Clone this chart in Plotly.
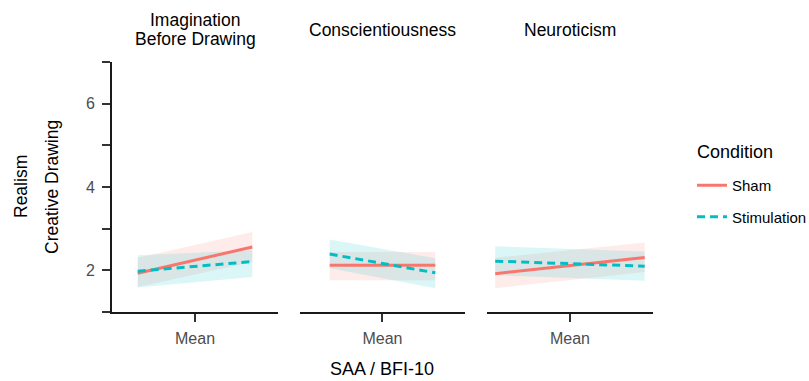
import plotly.graph_objects as go

# ---- data ----
facet_titles = [["Imagination", "Before Drawing"], ["Conscientiousness"], ["Neuroticism"]]
# moderator values (low / high end of each line, relative to mean)
x_vals = [[-0.69, 0.69], [-0.64, 0.64], [-0.90, 0.90]]

sham_fit = [[1.93, 2.56], [2.12, 2.12], [1.92, 2.31]]
sham_lo = [[1.60, 2.20], [1.76, 1.76], [1.57, 1.96]]
sham_hi = [[2.30, 2.92], [2.44, 2.44], [2.30, 2.67]]

stim_fit = [[1.98, 2.21], [2.39, 1.94], [2.22, 2.10]]
stim_lo = [[1.59, 1.84], [2.05, 1.57], [1.88, 1.75]]
stim_hi = [[2.36, 2.48], [2.74, 2.29], [2.58, 2.45]]

conditions = ["Sham", "Stimulation"]
legend_title = "Condition"
y_tick_vals = [1, 2, 3, 4, 5, 6, 7]
y_tick_text = ["", "2", "", "4", "", "6", ""]
x_tick_label = "Mean"
y_range = [1, 7]

colors = {"Sham": "#F8766D", "Stimulation": "#00BFC4"}
fills = {"Sham": "rgba(248,118,109,0.14)", "Stimulation": "rgba(0,191,196,0.14)"}
dashes = {"Sham": "solid", "Stimulation": "8px,5px"}

FONT = "Liberation Sans, Arial, sans-serif"

fig = go.Figure()

domains = [[0.0, 0.307], [0.3475, 0.6525], [0.693, 1.0]]

series = {
    "Sham": (sham_fit, sham_lo, sham_hi),
    "Stimulation": (stim_fit, stim_lo, stim_hi),
}

for i in range(3):
    xa = "x" if i == 0 else f"x{i+1}"
    ya = "y" if i == 0 else f"y{i+1}"
    for cond in conditions:
        fit, lo, hi = series[cond]
        xs = x_vals[i]
        fig.add_trace(go.Scatter(
            x=xs + xs[::-1], y=lo[i] + hi[i][::-1],
            fill="toself", fillcolor=fills[cond], line=dict(width=0),
            mode="lines", hoverinfo="skip", showlegend=False,
            xaxis=xa, yaxis=ya))
    for cond in conditions:
        fit, lo, hi = series[cond]
        fig.add_trace(go.Scatter(
            x=x_vals[i], y=fit[i], mode="lines",
            line=dict(color=colors[cond], width=3, dash=dashes[cond]),
            name=cond, legendgroup=cond, showlegend=(i == 0),
            xaxis=xa, yaxis=ya))

layout = dict(
    width=809, height=381,
    margin=dict(l=112, r=156, t=62, b=69),
    paper_bgcolor="white", plot_bgcolor="white",
    font=dict(family=FONT, color="black"),
    showlegend=True,
    legend=dict(
        font=dict(size=15, family=FONT, color="black"),
        xref="container", yref="container",
        x=692 / 809, xanchor="left", y=1 - 169 / 381, yanchor="top",
        tracegroupgap=9, itemwidth=30,
    ),
)

for i in range(3):
    sx = "" if i == 0 else str(i + 1)
    layout[f"xaxis{sx}"] = dict(
        domain=domains[i], range=[-1, 1], anchor="y" + sx,
        tickvals=[0], ticktext=[x_tick_label], ticks="outside", ticklen=8,
        tickwidth=1.5, tickcolor="#333333", ticklabelstandoff=3,
        showline=True, linecolor="#1a1a1a", linewidth=2,
        showgrid=False, zeroline=False, fixedrange=True,
        tickfont=dict(size=16, color="#4D4D4D", family=FONT),
    )
    ydict = dict(
        domain=[0, 1], range=y_range, anchor="x" + sx,
        showgrid=False, zeroline=False,
    )
    if i == 0:
        ydict.update(tickvals=y_tick_vals, ticktext=y_tick_text, ticks="outside", ticklen=8,
                     tickwidth=1.5, tickcolor="#333333", ticklabelstandoff=4,
                     showline=True, linecolor="#1a1a1a", linewidth=2,
                     tickfont=dict(size=16, color="#4D4D4D", family=FONT))
    else:
        ydict.update(showticklabels=False, showline=False, ticks="")
    layout[f"yaxis{sx}"] = ydict

fig.update_layout(**layout)


def py(pix):
    # pixel y -> paper y (plot area spans 62..312 px)
    return (312 - pix) / 250.0


def px(pix):
    # pixel x -> paper x (plot area spans 112..653 px)
    return (pix - 112) / 541.0


# facet titles
title_y = {1: [30], 2: [20, 39]}
for i in range(3):
    cx = (domains[i][0] + domains[i][1]) / 2
    lines = facet_titles[i]
    ys = title_y[len(lines)]
    for line, yp in zip(lines, ys):
        fig.add_annotation(text=line, x=cx, y=py(yp), xref="paper", yref="paper",
                           xanchor="center", yanchor="middle", showarrow=False,
                           font=dict(size=17.5, family=FONT, color="black"))

# legend title
fig.add_annotation(text=legend_title, x=px(695), y=py(152),
                   xref="paper", yref="paper", xanchor="left", yanchor="middle",
                   showarrow=False, font=dict(size=18, family=FONT, color="black"))

# axis titles
fig.add_annotation(text="Realism", x=px(21), y=py(187), xref="paper", yref="paper",
                   textangle=-90, xanchor="center", yanchor="middle", showarrow=False,
                   font=dict(size=17.5, family=FONT, color="black"))
fig.add_annotation(text="Creative Drawing", x=px(52), y=py(187), xref="paper", yref="paper",
                   textangle=-90, xanchor="center", yanchor="middle", showarrow=False,
                   font=dict(size=17.5, family=FONT, color="black"))
fig.add_annotation(text="SAA / BFI-10", x=px(382), y=py(381), xref="paper", yref="paper",
                   xanchor="center", yanchor="bottom", showarrow=False,
                   font=dict(size=18, family=FONT, color="black"))

fig.write_html("out.html")
